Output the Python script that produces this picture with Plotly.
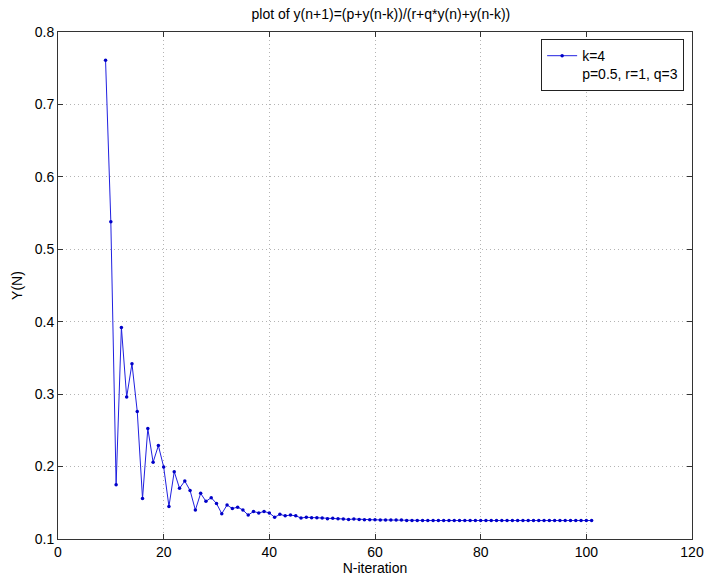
import plotly.graph_objects as go

# iteration index
n_values = list(range(9, 102))

# Y(N)
y_head = [0.761, 0.538, 0.175, 0.392, 0.296, 0.342, 0.276, 0.156, 0.2525, 0.206,
          0.229, 0.1995, 0.145, 0.193, 0.170, 0.180, 0.167, 0.140, 0.163, 0.152,
          0.157, 0.149, 0.135, 0.147, 0.142, 0.144, 0.140, 0.133, 0.138, 0.136,
          0.138, 0.136, 0.130, 0.134, 0.132, 0.133, 0.132, 0.129, 0.130, 0.1295,
          0.1295, 0.129, 0.128, 0.1285, 0.128, 0.1277, 0.127, 0.1276, 0.127, 0.1267,
          0.1267, 0.1265, 0.1263, 0.1263, 0.1262, 0.1262, 0.1261]
y_tail = [0.1255] * (len(n_values) - len(y_head))
y_values = y_head + y_tail

x_ticks = [0, 20, 40, 60, 80, 100, 120]
y_ticks = [0.1, 0.2, 0.3, 0.4, 0.5, 0.6, 0.7, 0.8]

title_text = "plot of y(n+1)=(p+y(n-k))/(r+q*y(n)+y(n-k))"
legend_name = "k=4<br>p=0.5, r=1, q=3"

font_family = "Liberation Sans, Arial, sans-serif"

fig = go.Figure()
fig.add_trace(go.Scatter(
    x=n_values, y=y_values, mode="lines+markers", name=legend_name,
    line=dict(color="#2020e0", width=1),
    marker=dict(color="#0000c8", size=3.5, symbol="circle"),
))

axis_common = dict(
    showline=True, linecolor="#333333", linewidth=1, mirror="ticks",
    ticks="inside", ticklen=5, tickcolor="#333333",
    showgrid=True, gridcolor="#b4b4b4", griddash="1px,3px", gridwidth=1,
    zeroline=False, tickfont=dict(family=font_family, size=14, color="black"),
)

fig.update_layout(
    width=716, height=584,
    margin=dict(l=58, r=12, t=32, b=43),
    paper_bgcolor="white", plot_bgcolor="white",
    font=dict(family=font_family, color="black"),
    title=dict(text=title_text, x=0.532, xanchor="center", y=1 - 14 / 584,
               yanchor="middle", font=dict(size=14, family=font_family, color="black")),
    xaxis=dict(range=[0, 120], tickvals=x_ticks, ticktext=[str(v) for v in x_ticks],
               title=dict(text="N-iteration", font=dict(size=14), standoff=2),
               **axis_common),
    yaxis=dict(range=[0.1, 0.8], tickvals=y_ticks, ticktext=[f"{v:.1f}" for v in y_ticks],
               title=dict(text="Y(N)", font=dict(size=14), standoff=8),
               **axis_common),
    showlegend=True,
    legend=dict(x=0.9876, y=0.986, xanchor="right", yanchor="top",
                bgcolor="white", bordercolor="#222222", borderwidth=1,
                font=dict(size=14, family=font_family, color="black"),
                itemwidth=30, tracegroupgap=0, valign="top"),
)

fig.write_html("out.html")
